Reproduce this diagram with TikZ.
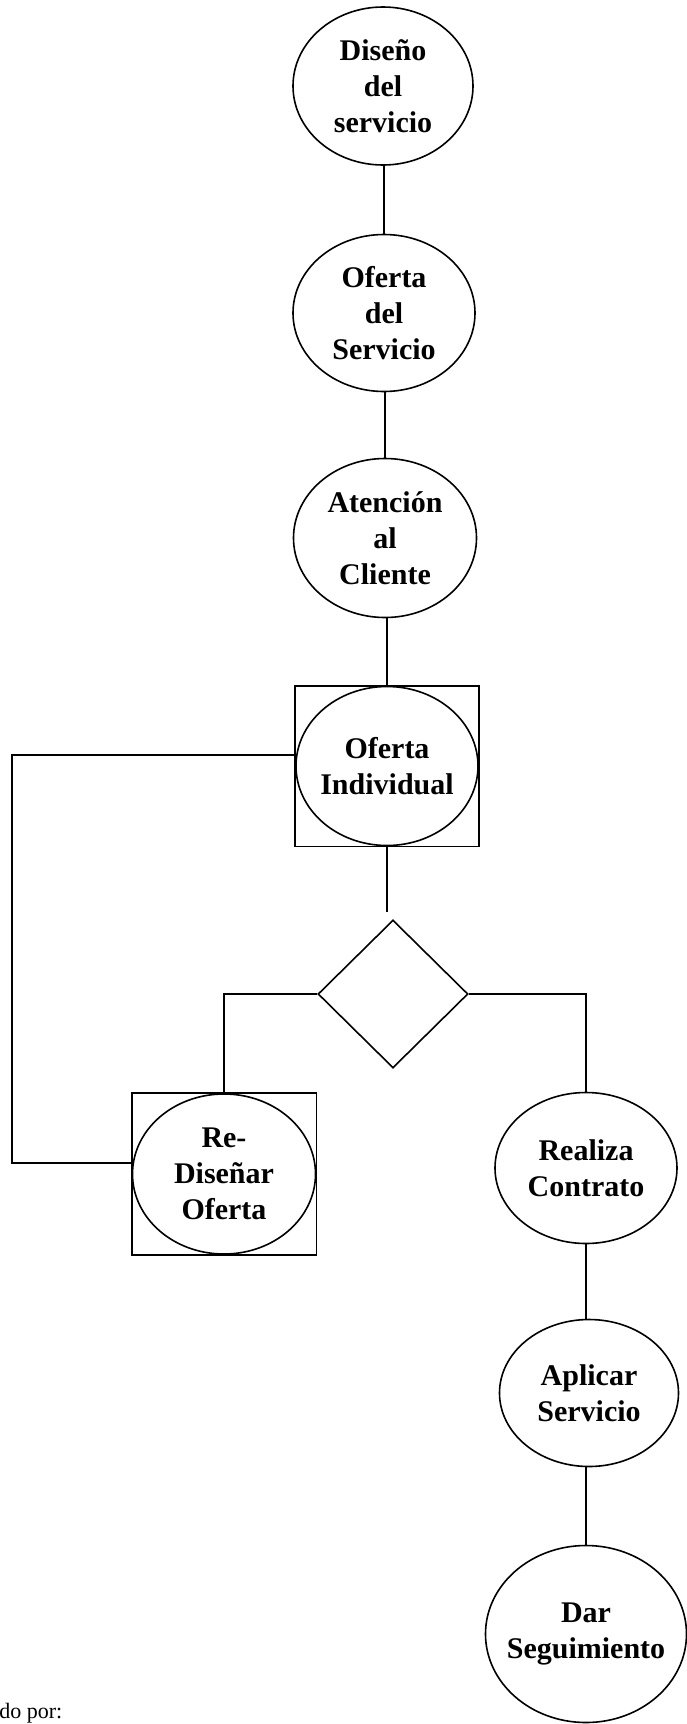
\documentclass[tikz,border=0pt]{standalone}
\usepackage{fontspec}
\setmainfont{Liberation Serif}
\usetikzlibrary{shapes.geometric,fit}

\begin{document}
\begin{tikzpicture}[x=1pt,y=-1pt,line width=1.6pt,
estado/.style={draw,ellipse,inner sep=0pt,inner xsep=-30pt,align=center,font=\bfseries\fontsize{30}{36}\selectfont},
caja/.style={draw,rectangle,inner sep=0pt},
decision/.style={draw,diamond,inner sep=0pt,minimum width=150pt,minimum height=148pt}]
\useasboundingbox (0,0) rectangle (687,1724);
%columna principal
\node[estado,minimum width=180pt,minimum height=158pt] (dis) at (383,86) {Diseño\\del\\servicio};
\node[estado,minimum width=182pt,minimum height=157pt] (ofs) at (384,313) {Oferta\\del\\Servicio};
\node[estado,minimum width=183pt,minimum height=159pt] (ate) at (385,538) {Atención\\al\\Cliente};
\node[estado,minimum width=182pt,minimum height=159pt] (ofi) at (387,766) {Oferta\\Individual};
\node[caja,fit=(ofi)] (ofibox) {};
\draw (ofs.north) -- (ofs.north |- dis.south);
\draw (ate.north) -- (ate.north |- ofs.south);
\draw (ofibox.north) -- (ofibox.north |- ate.south);
%decision
\node[decision] (dia) at (393,994) {};
\draw (ofibox.south) -- ([yshift=7pt]ofibox.south |- dia.north);
%rama izquierda
\node[estado,minimum width=183pt,minimum height=160pt] (red) at (224,1174) {Re-\\Diseñar\\Oferta};
\node[caja,fit=(red)] (redbox) {};
\draw (dia.west) -| (redbox.north);
%vuelta a la oferta
\coordinate (vuelta) at (12,1163);
\draw ([yshift=11pt]ofibox.west) -| (vuelta) -- ([yshift=11pt]redbox.west);
%rama derecha
\node[estado,minimum width=182pt,minimum height=151pt] (rea) at (586,1168) {Realiza\\Contrato};
\node[estado,minimum width=179pt,minimum height=147pt] (apl) at (589,1393) {Aplicar\\Servicio};
\node[estado,minimum width=201pt,minimum height=177pt] (dar) at (586,1634) {Dar\\Seguimiento};
\draw (dia.east) -| (rea.north);
\draw (rea.south) -- (rea.south |- apl.north);
\draw (dar.north) -- (dar.north |- apl.south);
%pie
\node[anchor=base east,inner sep=0pt,font=\fontsize{22}{26}\selectfont] (pie) at (63,1718) {do por:};
\end{tikzpicture}
\end{document}
